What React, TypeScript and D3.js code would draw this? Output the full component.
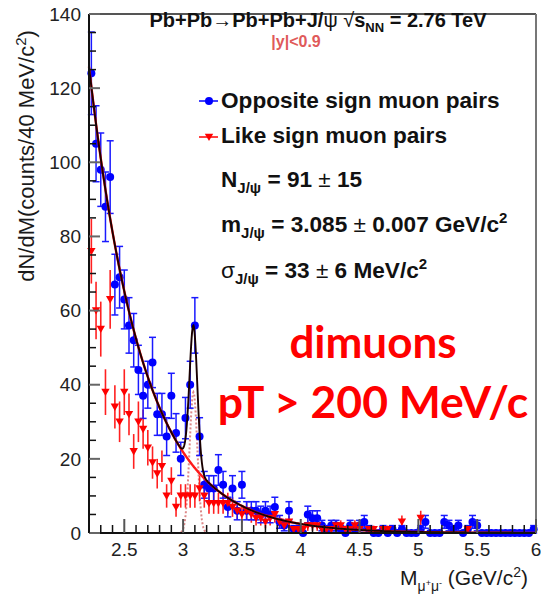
import React from 'react';
import * as d3 from 'd3';

const W = 541;
const H = 597;

// histogram binning (counts / 40 MeV)
const binLow = 2.2;
const binWidth = 0.04;

// opposite-sign muon pairs, counts per 40 MeV bin, bins starting at 2.20 GeV
const oppositeSign = [
  124, 105, 98, 88, 96, 67, 69, 63, 56, 52,
  44, 37, 40, 46, 32, 32, 26, 37, 27, 20,
  31, 40, 56, 26, 13, 12, 12, 17, 13, 7,
  12, 6, 13, 6, 6, 6, 5, 6, 5, 7,
  3, 2, 6, 1, 1, 0, 5, 4, 4, 2,
  1, 2, 2, 1, 0, 2, 1, 2, 3, 1,
  0, 0, 1, 0, 1, 0, 1, 0, 0, 0,
  1, 3, 0, 0, 0, 3, 2, 1, 2, 0,
  1, 3, 2, 0, 0, 0, 0, 0, 0, 0,
  0, 0, 0, 0, 1,
];

// like-sign muon pairs
const likeSign = [
  76, 60, 55, 38, 63, 34, 30, 38, 32, 22,
  30, 28, 23, 19, 16, 18, 10, 14, 7, 10,
  10, 10, 10, 12, 10, 8, 8, 8, 8, 8,
  7, 6, 5, 6, 5, 4, 4, 3, 4, 5,
  3, 2, 3, 1, 1, 1, 2, 2, 2, 1,
  1, 1, 2, 2, 1, 1, 2, 1, 0, 1,
  1, 0, 1, 1, 0, 0, 3, 0, 0, 0,
  4, 0, 0, 0, 0, 0, 0, 0, 0, 0,
  1, 0, 0, 0, 0, 0, 0, 0, 0, 0,
  0, 0, 0, 0, 0,
];

const xTicks = [2.5, 3, 3.5, 4, 4.5, 5, 5.5, 6];
const yTicks = [0, 20, 40, 60, 80, 100, 120, 140];

// fit parameters (exponential background + gaussian J/psi peak)
const bkgAmp = 125.8;
const bkgSlope = 2.19;
const gausAmp = 38;
const gausMean = 3.088;
const gausSigma = 0.033;

const FONT = "'Liberation Sans', Arial, Helvetica, sans-serif";

export default function App() {
  const x = d3.scaleLinear().domain([2.2, 6]).range([89, 536]);
  const y = d3.scaleLinear().domain([0, 140]).range([533, 14]);

  const centers = oppositeSign.map((_, i) => binLow + binWidth * (i + 0.5));

  const bkg = (m: number) => bkgAmp * Math.exp(-bkgSlope * (m - 2.2));
  const gaus = (m: number) => gausAmp * Math.exp(-0.5 * ((m - gausMean) / gausSigma) ** 2);
  const samples = d3.range(2.2, 6.0001, 0.004);
  const line = d3.line<number[]>().x((d) => x(d[0])).y((d) => y(d[1]));
  const bkgPath = line(samples.map((m) => [m, bkg(m)])) || '';
  const totPath = line(samples.map((m) => [m, bkg(m) + gaus(m)])) || '';
  const gausPath = line(samples.map((m) => [m, gaus(m)])) || '';

  const minorY = d3.range(0, 141, 5).filter((v) => v % 20 !== 0);
  const minorX = d3.range(22, 61, 1).map((v) => v / 10).filter((v) => Math.abs(v * 2 - Math.round(v * 2)) > 1e-6);

  const tri = (cx: number, cy: number, s: number) =>
    `M${cx - s},${cy - s * 0.8}L${cx + s},${cy - s * 0.8}L${cx},${cy + s * 0.95}Z`;

  return (
    <svg width={W} height={H} style={{ position: 'absolute', left: 0, top: 0, background: '#fff' }} fontFamily={FONT}>
      <rect x={0} y={0} width={W} height={H} fill="#fff" />

      {/* frame */}
      <line x1={x(2.2)} x2={x(6)} y1={y(140)} y2={y(140)} stroke="#555" strokeWidth={2} />
      <line x1={x(6)} x2={x(6)} y1={y(140)} y2={y(0)} stroke="#777" strokeWidth={2} />

      {/* gaussian component */}
      <path d={gausPath} fill="none" stroke="#d46a6a" strokeWidth={2} strokeDasharray="2,2" opacity={0.8} />

      {/* like-sign error bars */}
      {likeSign.map((v, i) =>
        v > 0 ? (
          <line key={'ls' + i} x1={x(centers[i])} x2={x(centers[i])} y1={y(v - Math.sqrt(v))} y2={y(v + Math.sqrt(v))} stroke="#ff2020" strokeWidth={1.6} />
        ) : null
      )}
      {/* opposite-sign */}
      {oppositeSign.map((v, i) => {
        const cx = x(centers[i]);
        const e = Math.sqrt(v);
        return (
          <g key={'os' + i}>
            {v > 0 && (
              <>
                <line x1={cx} x2={cx} y1={y(v - e)} y2={y(v + e)} stroke="#1a1aff" strokeWidth={1.5} />
                <line x1={cx - 3.5} x2={cx + 3.5} y1={y(v + e)} y2={y(v + e)} stroke="#1a1aff" strokeWidth={1.5} />
                <line x1={cx - 3.5} x2={cx + 3.5} y1={y(v - e)} y2={y(v - e)} stroke="#1a1aff" strokeWidth={1.5} />
              </>
            )}
            <circle cx={cx} cy={y(v)} r={4} fill="#0000ff" />
          </g>
        );
      })}
      {likeSign.map((v, i) =>
        v > 0 ? <path key={'lsm' + i} d={tri(x(centers[i]), y(v), 4.2)} fill="#ff0000" /> : null
      )}

      <path d={bkgPath} fill="none" stroke="#ff1a1a" strokeWidth={2.4} />
      <path d={totPath} fill="none" stroke="#1a0000" strokeWidth={1.9} />

      {/* axes */}
      <line x1={x(2.2)} x2={x(2.2)} y1={y(140)} y2={y(0)} stroke="#111" strokeWidth={2} />
      <line x1={x(2.2)} x2={x(6)} y1={y(0)} y2={y(0)} stroke="#111" strokeWidth={2} />
      {minorY.map((v) => (
        <line key={'my' + v} x1={x(2.2)} x2={x(2.2) + 7} y1={y(v)} y2={y(v)} stroke="#111" strokeWidth={1.5} />
      ))}
      {yTicks.map((v) => (
        <g key={'yt' + v}>
          <line x1={x(2.2)} x2={x(2.2) + 11} y1={y(v)} y2={y(v)} stroke="#666" strokeWidth={2} />
          <text x={81} y={y(v)} dy="0.35em" textAnchor="end" fontSize={19} fill="#222">{v}</text>
        </g>
      ))}
      {minorX.map((v) => (
        <line key={'mx' + v} x1={x(v)} x2={x(v)} y1={y(0)} y2={y(0) - 8} stroke="#111" strokeWidth={1.5} />
      ))}
      {xTicks.map((v) => (
        <g key={'xt' + v}>
          <line x1={x(v)} x2={x(v)} y1={y(0)} y2={y(0) - 14} stroke="#555" strokeWidth={2} />
          <text x={x(v)} y={556} textAnchor="middle" fontSize={19} fill="#222">{v}</text>
        </g>
      ))}

      {/* axis titles */}
      <text transform="translate(34,156) rotate(-90)" textAnchor="middle" fontSize={22} fill="#1a1a1a">
        dN/dM(counts/40 MeV/c<tspan fontSize={15} dy={-8}>2</tspan><tspan dy={8}>)</tspan>
      </text>
      <text x={528} y={585} textAnchor="end" fontSize={21} fill="#1a1a1a">
        M<tspan fontSize={14} dy={6}>μ</tspan><tspan fontSize={9} dy={-5}>+</tspan><tspan fontSize={14} dy={5}>μ</tspan><tspan fontSize={9} dy={-5}>-</tspan><tspan fontSize={21} dy={-1}> (GeV/c</tspan><tspan fontSize={14} dy={-8}>2</tspan><tspan fontSize={21} dy={8}>)</tspan>
      </text>

      {/* title */}
      <text x={318} y={27} textAnchor="middle" fontSize={20} fontWeight="bold" fill="#111">
        Pb+Pb<tspan fontWeight="normal">→</tspan>Pb+Pb+J/<tspan fontWeight="normal">ψ</tspan> <tspan fontWeight="normal">√</tspan>s<tspan fontSize={13} dy={5}>NN</tspan><tspan dy={-5}> = 2.76 TeV</tspan>
      </text>
      <text x={296} y={47} textAnchor="middle" fontSize={16} fontWeight="bold" fill="#e05a5a">|y|&lt;0.9</text>

      {/* legend */}
      <line x1={199} x2={218} y1={101} y2={101} stroke="#0000ff" strokeWidth={1.5} />
      <circle cx={209} cy={101} r={4} fill="#0000ff" />
      <text x={221} y={108} fontSize={22.6} fontWeight="bold" fill="#111">Opposite sign muon pairs</text>
      <line x1={199} x2={218} y1={137} y2={137} stroke="#ff0000" strokeWidth={1.5} />
      <path d={tri(209, 137, 4.2)} fill="#ff0000" />
      <text x={221} y={143} fontSize={22.6} fontWeight="bold" fill="#111">Like sign muon pairs</text>

      <text x={221} y={187} fontSize={22.6} fontWeight="bold" fill="#111">
        N<tspan fontSize={15} dy={6}>J/ψ</tspan><tspan dy={-6}> = 91 </tspan><tspan fontWeight="normal">±</tspan> 15
      </text>
      <text x={221} y={232} fontSize={22.6} fontWeight="bold" fill="#111">
        m<tspan fontSize={15} dy={6}>J/ψ</tspan><tspan dy={-6}> = 3.085 </tspan><tspan fontWeight="normal">±</tspan> 0.007 GeV/c<tspan fontSize={15} dy={-9}>2</tspan>
      </text>
      <text x={221} y={278} fontSize={22.6} fontWeight="bold" fill="#111">
        <tspan fontWeight="normal">σ</tspan><tspan fontSize={15} dy={6}>J/ψ</tspan><tspan dy={-6}> = 33 </tspan><tspan fontWeight="normal">±</tspan> 6 MeV/c<tspan fontSize={15} dy={-9}>2</tspan>
      </text>

      {/* annotation */}
      <text x={373} y={358} textAnchor="middle" fontSize={44} fontWeight="bold" fill="#ff0000" fontFamily="Lato, 'Open Sans', sans-serif">dimuons</text>
      <text x={373} y={418} textAnchor="middle" fontSize={44.5} fontWeight="bold" fill="#ff0000" fontFamily="Lato, 'Open Sans', sans-serif">pT &gt; 200 MeV/c</text>
    </svg>
  );
}
